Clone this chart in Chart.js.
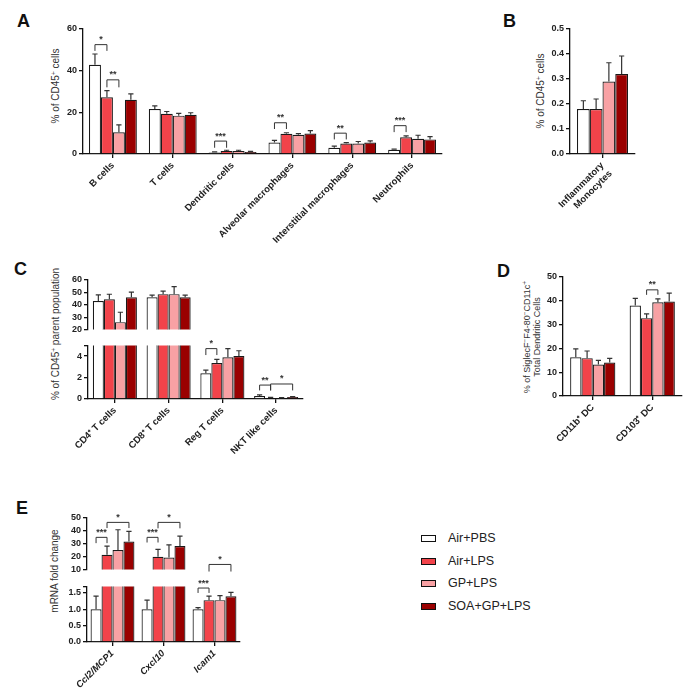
<!DOCTYPE html>
<html>
<head>
<meta charset="utf-8">
<script src="https://cdn.jsdelivr.net/npm/chart.js@4.4.0/dist/chart.umd.min.js"></script>
<style>
  body { margin: 0; width: 685px; height: 693px; background: #fff; position: relative; overflow: hidden;
         font-family: "Liberation Sans", Arial, sans-serif; color: #222; }
  canvas { position: absolute; }
  .panel { position: absolute; font-size: 18px; font-weight: bold; color: #111; line-height: 18px; }
  .ytitle { position: absolute; white-space: nowrap; font-size: 10px; line-height: 10px; text-align: center; color: #333;
            transform: translate(-50%, -50%) rotate(-90deg); }
  .ytitle sup { font-size: 6.5px; vertical-align: 3px; line-height: 0; }
  .leg { position: absolute; left: 421px; font-size: 12.5px; color: #222; }
  .leg i { position: absolute; left: 0; top: 4px; width: 13px; height: 5px; border: 1.5px solid #111; }
  .leg span { position: absolute; left: 27px; top: 0; white-space: nowrap; }
</style>
</head>
<body>
<div class="panel" style="left:17px;top:12px">A</div>
<div class="panel" style="left:503px;top:12px">B</div>
<div class="panel" style="left:14px;top:260px">C</div>
<div class="panel" style="left:497px;top:262px">D</div>
<div class="panel" style="left:16px;top:499px">E</div>

<div class="ytitle" style="left:56px;top:86px">% of CD45<sup>+</sup> cells</div>
<div class="ytitle" style="left:541px;top:91px">% of CD45<sup>+</sup> cells</div>
<div class="ytitle" style="left:56px;top:334px">% of CD45<sup>+</sup> parent population</div>
<div class="ytitle" style="left:532px;top:337px;font-size:9px;line-height:9.5px">% of SiglecF<sup>&minus;</sup>F4-80<sup>&minus;</sup>CD11c<sup>+</sup><br>Total Dendritic Cells</div>
<div class="ytitle" style="left:55px;top:571px">mRNA fold change</div>

<canvas id="chartA" width="455" height="250" style="left:0;top:0"></canvas>
<canvas id="chartB" width="180" height="250" style="left:470px;top:0"></canvas>
<canvas id="chartCup" width="275" height="72" style="left:40px;top:265px"></canvas>
<canvas id="chartClow" width="275" height="117" style="left:40px;top:338px"></canvas>
<canvas id="chartD" width="190" height="195" style="left:495px;top:260px"></canvas>
<canvas id="chartEup" width="210" height="72" style="left:40px;top:505px"></canvas>
<canvas id="chartElow" width="210" height="114" style="left:40px;top:579px"></canvas>
<div id="legend"></div>

<script>
const groups = ['Air+PBS', 'Air+LPS', 'GP+LPS', 'SOA+GP+LPS'];
const fills = ['#ffffff', '#f2434a', '#f8a1a4', '#9a0000'];

// Panel A // one row per group, one column per cell type
const catsA = ['B cells', 'T cells', 'Dendritic cells', 'Alveolar macrophages', 'Interstitial macrophages', 'Neutrophils'];
const meanA = [
  [42.8, 21.6, 0.7, 5.5, 3.0, 2.0],
  [27.2, 19.3, 1.5, 9.7, 5.0, 8.0],
  [10.4, 18.4, 1.5, 9.2, 5.0, 7.3],
  [26.0, 18.8, 1.0, 9.8, 5.5, 7.0]
];
const errA = [
  [5.2, 1.5, 0.3, 1.0, 0.8, 0.3],
  [3.2, 1.1, 0.3, 0.5, 0.5, 0.7],
  [3.6, 1.1, 0.3, 0.6, 1.0, 1.7],
  [2.9, 1.0, 0.3, 1.4, 0.8, 1.3]
];
const ticksA = [0, 20, 40, 60];
// [category, group from, group to, bracket value, leg value, label]
const sigA = [[0, 0, 1, 52.5, 49.5, '*'], [0, 1, 2, 35.6, 32, '**'], [2, 0, 1, 6.2, 3, '***'],
              [3, 0, 1, 15, 12, '**'], [4, 0, 1, 10, 7, '**'], [5, 0, 1, 13.6, 10.5, '***']];

// Panel B //
const catsB = [['Inflammatory', 'Monocytes']];
const meanB = [[0.18], [0.18], [0.29], [0.32]];
const errB = [[0.033], [0.04], [0.075], [0.072]];
const ticksB = [0, 0.1, 0.2, 0.3, 0.4, 0.5];

// Panel C // (broken axis: 0-5 and 20-60)
const catsC = ['CD4\u207A T cells', 'CD8\u207A T cells', 'Reg T cells', 'NKT like cells'];
const meanC = [
  [43.0, 46.0, 2.4, 0.27],
  [44.5, 48.6, 3.35, 0.1],
  [26.0, 48.6, 3.9, 0.1],
  [46.0, 46.0, 4.0, 0.18]
];
const errC = [
  [5.0, 1.8, 0.3, 0.12],
  [4.0, 2.4, 0.35, 0.05],
  [8.0, 6.0, 0.8, 0.03],
  [4.3, 1.8, 0.5, 0.05]
];
const ticksCup = [20, 30, 40, 50, 60];
const ticksClow = [0, 2, 4, 5];
const sigC = [[2, 0, 1, 4.7, 4.1, '*'], [3, 0, 1, 1.3, 0.8, '**'], [3, 1, 3, 1.4, 0.8, '*']];

// Panel D //
const catsD = ['CD11b\u207A DC', 'CD103\u207A DC'];
const meanD = [[16.3, 38.0], [15.9, 32.7], [13.2, 39.4], [14.1, 39.7]];
const errD = [[3.5, 3.0], [3.0, 1.8], [1.8, 1.4], [1.7, 3.5]];
const ticksD = [0, 10, 20, 30, 40, 50];
const sigD = [[1, 1, 2, 44.6, 42.5, '**']];

// Panel E // (broken axis: 0-1.7 and 10-50)
const catsE = ['Ccl2/MCP1', 'Cxcl10', 'Icam1'];
const meanE = [
  [1.0, 1.0, 1.0],
  [21.5, 20.0, 1.28],
  [25.1, 19.3, 1.28],
  [31.7, 28.2, 1.4]
];
const errE = [
  [0.4, 0.28, 0.05],
  [6.7, 5.7, 0.12],
  [15.8, 9.8, 0.14],
  [7.9, 7.7, 0.12]
];
const ticksEup = [10, 20, 30, 40, 50];
const ticksElow = [0, 0.5, 1.0, 1.5, 1.7];
const sigEup = [[0, 0, 1, 35, 30.5, '***'], [0, 1, 3, 46.6, 42.2, '*'], [1, 0, 1, 35, 31, '***'],
                [1, 1, 3, 46.6, 42, '*'], [2, 1, 3, 14, 8.5, '*']];
const sigElow = [[2, 0, 1, 1.65, 1.5, '***']];

Chart.defaults.font.family = '"Liberation Sans", Arial, sans-serif';
Chart.defaults.color = '#222';

// upward SEM whiskers
const errorBars = {
  id: 'errorBars',
  afterDatasetsDraw(chart) {
    const {ctx, chartArea: a} = chart;
    const y = chart.scales.y;
    ctx.save();
    ctx.beginPath();
    ctx.rect(a.left, a.top - 1, a.right - a.left, a.bottom - a.top + 1);
    ctx.clip();
    ctx.strokeStyle = '#333';
    ctx.lineWidth = 1.2;
    chart.data.datasets.forEach((ds, i) => {
      chart.getDatasetMeta(i).data.forEach((bar, j) => {
        const top = y.getPixelForValue(ds.data[j] + ds.err[j]);
        const w = 2.6;
        ctx.beginPath();
        ctx.moveTo(bar.x, bar.y);
        ctx.lineTo(bar.x, top);
        ctx.moveTo(bar.x - w, top);
        ctx.lineTo(bar.x + w, top);
        ctx.stroke();
      });
    });
    ctx.restore();
  }
};

// significance brackets
sigMarks = function(marks) {
  return {
    id: 'sigMarks',
    afterDatasetsDraw(chart) {
      const ctx = chart.ctx;
      const y = chart.scales.y;
      ctx.save();
      ctx.strokeStyle = '#333';
      ctx.fillStyle = '#333';
      ctx.lineWidth = 1;
      ctx.font = 'bold 9px "Liberation Sans", Arial, sans-serif';
      ctx.textAlign = 'center';
      ctx.textBaseline = 'bottom';
      for (const m of marks) {
        const x1 = chart.getDatasetMeta(m[1]).data[m[0]].x;
        const x2 = chart.getDatasetMeta(m[2]).data[m[0]].x;
        const yh = y.getPixelForValue(m[3]), yl = y.getPixelForValue(m[4]);
        ctx.beginPath();
        ctx.moveTo(x1, yl);
        ctx.lineTo(x1, yh);
        ctx.lineTo(x2, yh);
        ctx.lineTo(x2, yl);
        ctx.stroke();
        ctx.fillText(m[5], (x1 + x2) / 2, yh - 0.5);
      }
      ctx.restore();
    }
  };
};

const axisLine = {color: '#111', width: 1.3};
const tickMarks = {drawOnChartArea: false, drawTicks: true, tickLength: 4, color: '#111', lineWidth: 1.3};
const tickFont = {size: 9, weight: 'bold'};
const labelFont = {size: 9.5, weight: 'bold'};

barChart = function(id, cats, means, errs, marks, o) {
  const datasets = groups.map((g, i) => ({
    label: g,
    data: means[i],
    err: errs[i],
    backgroundColor: fills[i],
    borderColor: '#1a1a1a',
    borderWidth: 1.2,
    barPercentage: 1,
    categoryPercentage: o.cat,
    clip: 0
  }));
  const yTicks = o.ticks;
  return new Chart(document.getElementById(id), {
    type: 'bar',
    data: {labels: cats, datasets: datasets},
    options: {
      responsive: false,
      animation: false,
      layout: {padding: o.pad},
      plugins: {legend: {display: false}, tooltip: {enabled: false}},
      scales: {
        x: {
          display: o.xh > 0,
          grid: Object.assign({offset: false}, tickMarks),
          border: axisLine,
          ticks: {font: o.xFont || labelFont, minRotation: 45, maxRotation: 45, autoSkip: false, padding: 2},
          afterFit: s => { s.height = o.xh; }
        },
        y: {
          min: yTicks[0],
          max: yTicks[yTicks.length - 1],
          grid: tickMarks,
          border: axisLine,
          ticks: {font: tickFont, padding: 2, autoSkip: false,
                  callback: v => (o.hideTop && v === yTicks[yTicks.length - 1] ? '' : (o.dec ? v.toFixed(1) : v))},
          afterBuildTicks: s => { s.ticks = yTicks.map(v => ({value: v})); },
          afterFit: s => { s.width = o.yw; }
        }
      }
    },
    plugins: [errorBars, sigMarks(marks)]
  });
};

// legend
const legend = document.getElementById('legend');
groups.forEach((g, i) => {
  const row = document.createElement('div');
  row.className = 'leg';
  row.style.top = (531 + i * 22.7) + 'px';
  row.innerHTML = '<i style="background:' + fills[i] + '"></i><span>' + g + '</span>';
  legend.appendChild(row);
});

window.onload = () => {
  barChart('chartA', catsA, meanA, errA, sigA,
    {cat: 0.8, pad: {left: 50, top: 29, right: 13, bottom: 0}, xh: 96, yw: 33, ticks: ticksA});
  barChart('chartB', catsB, meanB, errB, [],
    {cat: 0.785, pad: {left: 66, top: 29, right: 15, bottom: 0}, xh: 96, yw: 34, ticks: ticksB, dec: true});
  barChart('chartCup', catsC, meanC, errC, [],
    {cat: 0.82, pad: {left: 20, top: 15, right: 12, bottom: 2}, xh: 0, yw: 28, ticks: ticksCup});
  barChart('chartClow', catsC, meanC, errC, sigC,
    {cat: 0.82, pad: {left: 20, top: 6, right: 12, bottom: 0}, xh: 56, yw: 28, ticks: ticksClow, hideTop: true});
  barChart('chartD', catsD, meanD, errD, sigD,
    {cat: 0.76, pad: {left: 28, top: 17, right: 3, bottom: 0}, xh: 59, yw: 40, ticks: ticksD});
  barChart('chartEup', catsE, meanE, errE, sigEup,
    {cat: 0.86, pad: {left: 20, top: 13, right: 10, bottom: 2}, xh: 0, yw: 27, ticks: ticksEup});
  barChart('chartElow', catsE, meanE, errE, sigElow,
    {cat: 0.86, pad: {left: 20, top: 6, right: 10, bottom: 0}, xh: 51, yw: 27, ticks: ticksElow, hideTop: true, dec: true,
     xFont: {size: 9.5, weight: 'bold', style: 'italic'}});
};
</script>
</body>
</html>
